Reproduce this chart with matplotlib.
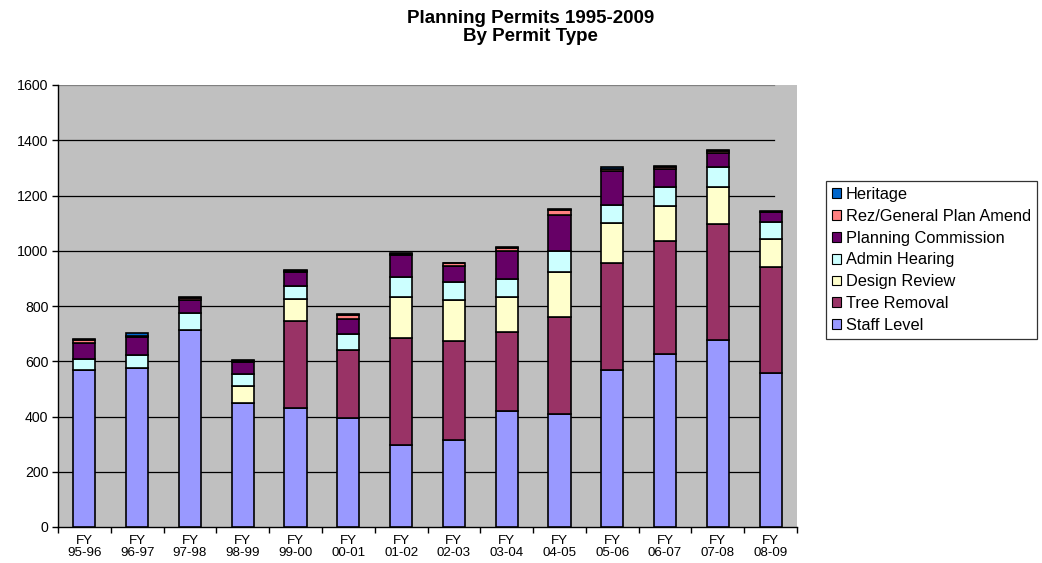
import matplotlib
matplotlib.use("Agg")
import matplotlib.pyplot as plt
from matplotlib.patches import Patch
import numpy as np

plt.rcParams['font.family'] = ['Liberation Sans', 'DejaVu Sans']

categories = ["FY\n95-96", "FY\n96-97", "FY\n97-98", "FY\n98-99", "FY\n99-00", "FY\n00-01", "FY\n01-02",
              "FY\n02-03", "FY\n03-04", "FY\n04-05", "FY\n05-06", "FY\n06-07", "FY\n07-08", "FY\n08-09"]

staff_level = [568, 577, 714, 448, 430, 395, 296, 315, 419, 410, 568, 625, 677, 556]
tree_removal = [0, 0, 0, 0, 315, 246, 388, 359, 286, 350, 387, 410, 419, 386]
design_review = [0, 0, 0, 62, 79, 0, 147, 148, 129, 164, 144, 128, 134, 99]
admin_hearing = [40, 47, 61, 43, 47, 56, 73, 64, 64, 76, 67, 67, 74, 64]
planning_commission = [58, 65, 47, 45, 53, 56, 81, 60, 101, 129, 123, 66, 51, 34]
rez_general_plan = [12, 4, 8, 3, 2, 14, 3, 9, 12, 19, 7, 8, 6, 1]
heritage = [3, 8, 3, 5, 3, 5, 3, 2, 3, 2, 6, 4, 4, 4]

series_names = ["Staff Level", "Tree Removal", "Design Review", "Admin Hearing",
                "Planning Commission", "Rez/General Plan Amend", "Heritage"]
series_values = [staff_level, tree_removal, design_review, admin_hearing,
                 planning_commission, rez_general_plan, heritage]
series_colors = ["#9999FF", "#993366", "#FFFFCC", "#CCFFFF", "#660066", "#FF8080", "#0066CC"]

y_ticks = [0, 200, 400, 600, 800, 1000, 1200, 1400, 1600]

W, H = 1042, 563
fig = plt.figure(figsize=(W / 100, H / 100), dpi=100)
fig.patch.set_facecolor("white")
ax = fig.add_axes([58 / W, 1 - 527 / H, (797 - 58) / W, (527 - 85) / H])
ax.set_facecolor("#C0C0C0")

x = np.arange(len(categories))
bottom = np.zeros(len(categories))
for name, vals, col in zip(series_names, series_values, series_colors):
    v = np.array(vals, dtype=float)
    ax.bar(x, v, bottom=bottom, width=0.42, color=col, edgecolor="black",
           linewidth=1.2, label=name, zorder=3)
    bottom += v

ax.set_xlim(-0.5, len(categories) - 0.5)
ax.set_ylim(0, 1600)

# gridlines (Excel style: stop short of the right edge)
for yv in y_ticks[1:]:
    ax.axhline(yv, xmin=0, xmax=(774 - 58) / (797 - 58),
               color="#808080" if yv == 1600 else "black", linewidth=0.9, zorder=1)

for s in ["top", "right"]:
    ax.spines[s].set_visible(False)
ax.spines["left"].set_linewidth(1.0)
ax.spines["bottom"].set_linewidth(1.0)

ax.set_yticks(y_ticks)
ax.set_yticklabels([str(t) for t in y_ticks], fontsize=10.2)
ax.tick_params(axis="y", direction="out", length=4, width=1.0, pad=3)

ax.set_xticks(x)
ax.set_xticklabels(categories, fontsize=9.6, linespacing=1.0)
ax.set_xticks(np.arange(len(categories) + 1) - 0.5, minor=True)
ax.tick_params(axis="x", which="major", length=0, pad=6)
ax.tick_params(axis="x", which="minor", direction="out", length=4, width=1.0)

fig.text(0.509, 0.982, "Planning Permits 1995-2009\nBy Permit Type", ha="center", va="top",
         fontsize=13.5, fontweight="bold", linespacing=1.1)

handles = [Patch(facecolor=c, edgecolor="black", linewidth=0.8, label=n)
           for n, c in zip(series_names, series_colors)][::-1]
leg = fig.legend(handles=handles, loc="upper left", bbox_to_anchor=(826 / W, 1 - 181 / H),
                 fontsize=11.8, frameon=True, fancybox=False, edgecolor="black",
                 handlelength=0.55, handleheight=0.55, handletextpad=0.3,
                 labelspacing=0.42, borderpad=0.35, borderaxespad=0)
leg.get_frame().set_linewidth(0.9)

fig.savefig("out.png", dpi=100)
